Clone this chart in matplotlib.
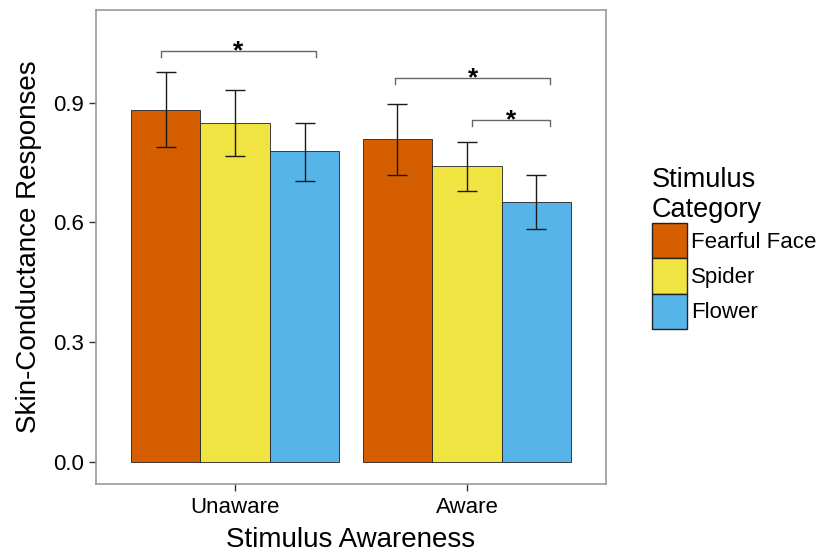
import numpy as np
import matplotlib.pyplot as plt
from matplotlib.patches import Patch

plt.rcParams['font.family'] = ['Liberation Sans', 'DejaVu Sans']

# data
awareness = ['Unaware', 'Aware']
categories = ['Fearful Face', 'Spider', 'Flower']
colors = ['#D55E00', '#F0E442', '#56B4E9']
means = {
    'Fearful Face': [0.882, 0.808],
    'Spider': [0.848, 0.742],
    'Flower': [0.778, 0.652],
}
err_low = {
    'Fearful Face': [0.788, 0.718],
    'Spider': [0.766, 0.680],
    'Flower': [0.705, 0.583],
}
err_high = {
    'Fearful Face': [0.978, 0.897],
    'Spider': [0.932, 0.802],
    'Flower': [0.849, 0.719],
}
# significance brackets: (x start, x end, height)
brackets = [(0.68, 1.35, 1.030), (1.69, 2.36, 0.961), (2.02, 2.36, 0.857)]
y_ticks = [0.0, 0.3, 0.6, 0.9]

fig = plt.figure(figsize=(8.22, 5.58), dpi=100)
ax = fig.add_axes([0.1168, 0.1326, 0.6204, 0.8494])

x = np.arange(1, len(awareness) + 1)
width = 0.3
for i, cat in enumerate(categories):
    pos = x + (i - 1) * width
    m = np.array(means[cat])
    lo = m - np.array(err_low[cat])
    hi = np.array(err_high[cat]) - m
    ax.bar(pos, m, width=width, color=colors[i], edgecolor='#222222',
           linewidth=0.6, zorder=2)
    ax.errorbar(pos, m, yerr=[lo, hi], fmt='none', ecolor='#1a1a1a',
                elinewidth=1.0, capsize=7, capthick=1.0, zorder=3)

# significance markers
tip = 0.015
for x0, x1, h in brackets:
    ax.plot([x0, x0, x1, x1], [h - tip, h, h, h - tip], color='#666666',
            linewidth=1.0, zorder=3)
    ax.text((x0 + x1) / 2, h - 0.018, '*', ha='center', va='baseline',
            fontsize=19, fontweight='bold', color='black', zorder=4)

ax.set_xlim(0.4, 2.6)
ax.set_ylim(-0.055, 1.132)
ax.set_xticks(x)
ax.set_xticklabels(awareness)
ax.set_yticks(y_ticks)
ax.set_yticklabels(['%.1f' % t for t in y_ticks])
ax.tick_params(labelsize=16, length=5, width=1.0, color='#333333',
               labelcolor='black', pad=4)
for s in ax.spines.values():
    s.set_color('#999999')
    s.set_linewidth(1.2)

ax.set_xlabel('Stimulus Awareness', fontsize=20, labelpad=7)
ax.set_ylabel('Skin-Conductance Responses', fontsize=20, labelpad=8)

handles = [Patch(facecolor=c, edgecolor='#222222', linewidth=1.0) for c in colors]
leg = fig.legend(handles, categories, title='Stimulus\nCategory',
                 loc='upper left', bbox_to_anchor=(0.793, 0.70),
                 frameon=False, fontsize=16, title_fontsize=19.5,
                 handlelength=1.58, handleheight=2.05, labelspacing=0,
                 handletextpad=0.2, borderpad=0, borderaxespad=0,
                 alignment='left')

fig.savefig('out.png', dpi=100)
